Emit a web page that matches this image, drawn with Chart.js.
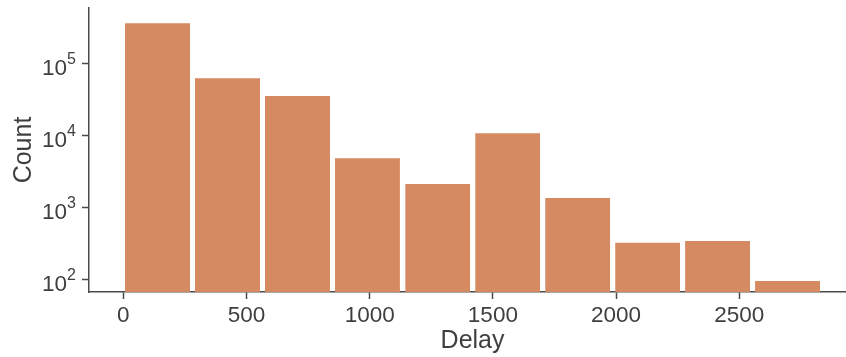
<!DOCTYPE html>
<html>
<head>
<meta charset="utf-8">
<script src="https://cdn.jsdelivr.net/npm/chart.js@4/dist/chart.umd.min.js"></script>
<style>
  html, body { margin: 0; padding: 0; background: #ffffff; }
  #wrap { width: 846px; height: 357px; }
</style>
</head>
<body>
<div id="wrap"><canvas id="c" width="846" height="357"></canvas></div>
<script>
// Histogram of delays: bin centres and counts per bin
const binCenters = [139, 423, 707, 991, 1276, 1560, 1844, 2128, 2412, 2696];
const counts = [377000, 64700, 36700, 4990, 2190, 11100, 1400, 334, 353, 98];
const xTicks = [0, 500, 1000, 1500, 2000, 2500];
const yTickExponents = [2, 3, 4, 5];
const xTitle = 'Delay';
const yTitle = 'Count';

const FAMILY = '"Liberation Sans", Arial, sans-serif';
const TEXT = '#3f3f3f';
const AXIS = '#4a4a4a';
const BAR = '#d68a62';

const axisText = {
  id: 'axisText',
  afterDraw(chart) {
    const { ctx, chartArea, scales: { x, y } } = chart;
    ctx.save();
    ctx.fillStyle = TEXT;
    ctx.textBaseline = 'alphabetic';

    // x tick labels
    ctx.font = `22.5px ${FAMILY}`;
    ctx.textAlign = 'center';
    xTicks.forEach(v => ctx.fillText(String(v), x.getPixelForValue(v), chartArea.bottom + 30));

    // y tick labels as 10 with a raised exponent
    ctx.textAlign = 'right';
    yTickExponents.forEach(e => {
      const py = y.getPixelForValue(Math.pow(10, e));
      const right = chartArea.left - 13;
      ctx.font = `16px ${FAMILY}`;
      const ew = ctx.measureText(String(e)).width;
      ctx.fillText(String(e), right, py + 0.5);
      ctx.font = `22.5px ${FAMILY}`;
      ctx.fillText('10', right - ew, py + 11.5);
    });

    // axis titles
    ctx.font = `25px ${FAMILY}`;
    ctx.textAlign = 'center';
    const midBins = (binCenters[0] + binCenters[binCenters.length - 1]) / 2;
    ctx.fillText(xTitle, x.getPixelForValue(midBins), chartArea.bottom + 56);

    ctx.translate(31, (chartArea.top + chartArea.bottom) / 2);
    ctx.rotate(-Math.PI / 2);
    ctx.fillText(yTitle, 0, 0);
    ctx.restore();
  }
};

new Chart(document.getElementById('c'), {
  type: 'bar',
  data: {
    datasets: [{
      data: binCenters.map((c, i) => ({ x: c, y: counts[i] })),
      backgroundColor: BAR,
      borderColor: 'rgba(255,255,255,0.35)',
      borderWidth: { top: 1, left: 0, right: 0, bottom: 0 },
      borderSkipped: false,
      barPercentage: 0.929,
      categoryPercentage: 1
    }]
  },
  options: {
    responsive: false,
    animation: false,
    devicePixelRatio: 1,
    layout: { padding: { top: 8, right: 0, bottom: 0, left: 0 } },
    plugins: { legend: { display: false }, tooltip: { enabled: false } },
    scales: {
      x: {
        type: 'linear',
        position: 'bottom',
        min: -139,
        max: 2933,
        offset: false,
        afterBuildTicks: s => { s.ticks = xTicks.map(v => ({ value: v })); },
        afterFit: s => { s.height = 65; },
        grid: { display: true, offset: false, drawOnChartArea: false, drawTicks: true, tickLength: 7, tickWidth: 1.5, tickColor: AXIS },
        border: { display: true, color: AXIS, width: 1.5 },
        ticks: { display: false }
      },
      y: {
        type: 'logarithmic',
        position: 'left',
        min: 66.6,
        max: 595000,
        afterBuildTicks: s => { s.ticks = yTickExponents.map(e => ({ value: Math.pow(10, e) })); },
        afterFit: s => { s.width = 89; },
        grid: { display: true, drawOnChartArea: false, drawTicks: true, tickLength: 7, tickWidth: 1.5, tickColor: AXIS },
        border: { display: true, color: AXIS, width: 1.5 },
        ticks: { display: false }
      }
    }
  },
  plugins: [axisText]
});
</script>
</body>
</html>
